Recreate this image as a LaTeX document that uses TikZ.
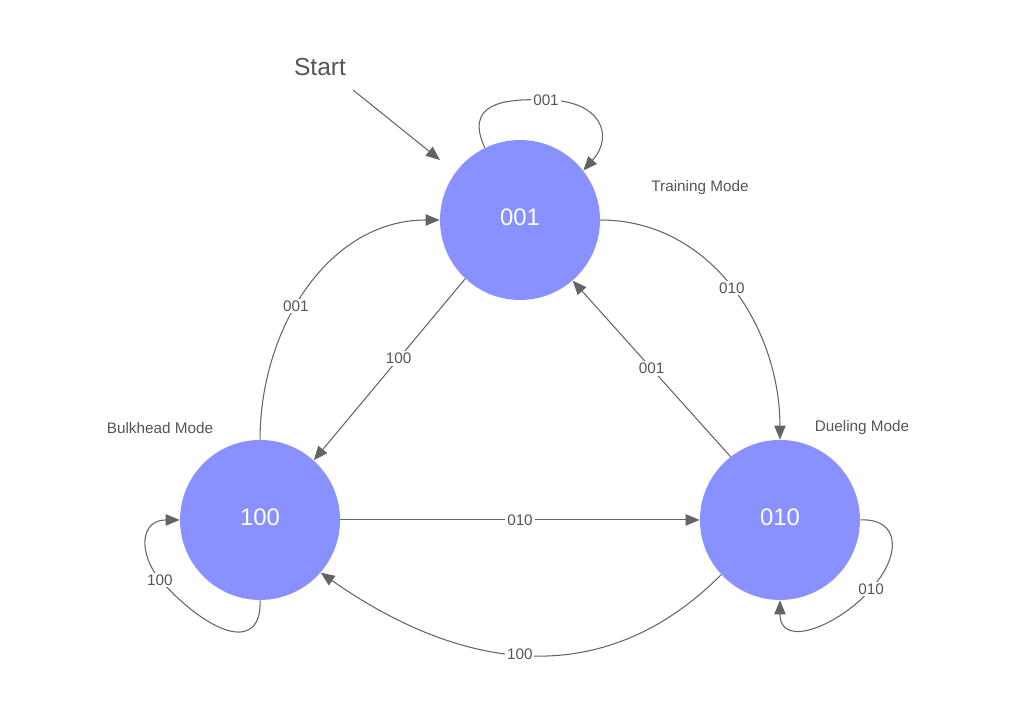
\documentclass[tikz,border=0pt]{standalone}
\usepackage{fontspec}
\setmainfont{Liberation Sans}
\usetikzlibrary{arrows.meta,positioning}
\definecolor{stateblue}{RGB}{136,145,255}
\definecolor{linegray}{RGB}{100,100,100}
\definecolor{textgray}{RGB}{85,85,85}
\tikzstyle{modestate} = [circle, minimum size=3.2cm, inner sep=0pt, text depth=0.12cm, fill=stateblue, text=white, font=\fontsize{13.6}{16}\selectfont]
\tikzstyle{starttext} = [text=textgray, font=\fontsize{14}{17}\selectfont]
\tikzstyle{modelabel} = [text=textgray, font=\fontsize{8.7}{10}\selectfont]
\tikzstyle{edgelabel} = [fill=white, inner sep=1pt, text=textgray, font=\fontsize{8.7}{10}\selectfont]
\tikzstyle{arrow} = [-{Triangle[length=8pt,width=6.5pt]}, draw=linegray, line width=0.6pt]

\begin{document}
\begin{tikzpicture}[x=0.02cm, y=0.02cm]
\useasboundingbox (0,0) rectangle (1022,-706);
% Draw shapes
\node (Training) [modestate] at (520,-220) {001};
\node (Bulkhead) [modestate, below of = Training, node distance=6cm, xshift=-5.2cm] {100};
\node (Dueling) [modestate, below of = Training, node distance=6cm, xshift=5.2cm] {010};
\node (Start) [starttext] at (320,-67) {Start};
\node (TrainingLabel) [modelabel] at (700,-188) {Training Mode};
\node (BulkheadLabel) [modelabel] at (160,-428) {Bulkhead Mode};
\node (DuelingLabel) [modelabel] at (862,-428) {Dueling Mode};
\coordinate (StartTail) at (353,-90);
\coordinate (StartTip) at (440,-160);
% Draw arrows
\draw [arrow] (StartTail) -- (StartTip);
\draw [arrow] (Training.116) .. controls (465,-105) and (500,-98) .. (546,-100) node [edgelabel] {001}
  .. controls (600,-100) and (615,-135) .. (Training.38);
\draw [arrow] (Training.east) to [out=0, in=90] node [edgelabel] {010} (Dueling.north);
\draw [arrow] (Dueling.128) -- node [edgelabel] {001} (Training.-49);
\draw [arrow] (Training.227) -- node [edgelabel, pos=0.44] {100} (Bulkhead.48);
\draw [arrow] (Bulkhead.north) to [out=90, in=180] node [edgelabel, pos=0.43] {001} (Training.west);
\draw [arrow] (Bulkhead) -- node [edgelabel] {010} (Dueling);
\draw [arrow] (Dueling.223) to [out=-135, in=-35, looseness=1.08] node [edgelabel, pos=0.52] {100} (Bulkhead.-41);
\draw [arrow] (Bulkhead.south) .. controls (262,-650) and (215,-640) .. (160,-580) node [edgelabel] {100}
  .. controls (138,-553) and (140,-520) .. (Bulkhead.west);
\draw [arrow] (Dueling.east) .. controls (900,-518) and (902,-555) .. (871,-589) node [edgelabel] {010}
  .. controls (840,-625) and (780,-650) .. (Dueling.south);
\end{tikzpicture}
\end{document}
